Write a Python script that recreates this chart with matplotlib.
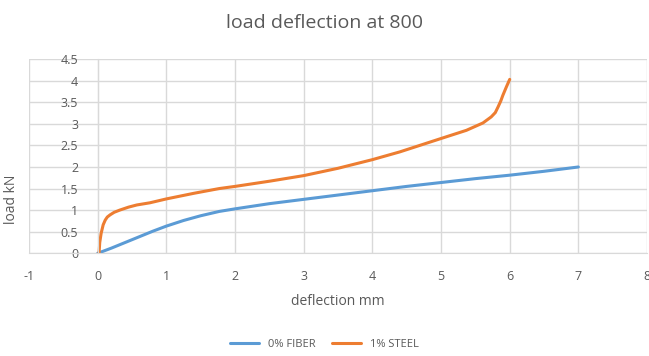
import matplotlib.pyplot as plt
import numpy as np

plt.rcParams['font.family'] = ['Open Sans', 'DejaVu Sans']

# 0% fiber curve (deflection mm, load kN)
fiber_x = [0, 0.2, 0.4, 0.6, 0.8, 1.0, 1.25, 1.5, 1.77, 2.0, 2.5, 3.0, 3.5, 4.0, 4.5, 5.0, 5.5, 6.0, 6.5, 7.0]
fiber_y = [0, 0.12, 0.25, 0.38, 0.51, 0.63, 0.76, 0.87, 0.97, 1.03, 1.15, 1.25, 1.35, 1.45, 1.55, 1.64, 1.73, 1.81, 1.9, 2.0]

# 1% steel curve
steel_x = [0.02, 0.03, 0.05, 0.08, 0.11, 0.14, 0.18, 0.24, 0.32, 0.45, 0.57, 0.76, 1.0, 1.4, 1.77, 2.0, 2.5, 3.0, 3.5,
           4.0, 4.4, 5.0, 5.37, 5.61, 5.73, 5.79, 5.83, 5.87, 5.9, 5.95, 6.0]
steel_y = [0, 0.25, 0.46, 0.66, 0.77, 0.84, 0.89, 0.95, 1.0, 1.07, 1.12, 1.17, 1.26, 1.39, 1.5, 1.55, 1.67, 1.8, 1.97,
           2.17, 2.35, 2.66, 2.85, 3.02, 3.16, 3.26, 3.39, 3.53, 3.66, 3.85, 4.03]

x_ticks = [-1, 0, 1, 2, 3, 4, 5, 6, 7, 8]
y_ticks = [0, 0.5, 1, 1.5, 2, 2.5, 3, 3.5, 4, 4.5]

grid_col = '#D9D9D9'
text_col = '#595959'

fig = plt.figure(figsize=(6.49, 3.56), dpi=100)
ax = fig.add_axes([0.0447, 0.2885, 0.9523, 0.5455])

ax.plot(fiber_x, fiber_y, color='#5B9BD5', lw=2.2, label='0% FIBER', solid_capstyle='round')
ax.plot(steel_x, steel_y, color='#ED7D31', lw=2.2, label='1% STEEL', solid_capstyle='round')

ax.set_xlim(-1, 8)
ax.set_ylim(0, 4.5)
ax.set_xticks(x_ticks)
ax.set_yticks(y_ticks)
ax.set_xticklabels([str(v) for v in x_ticks])
ax.set_yticklabels([('%g' % v) for v in y_ticks])
ax.grid(True, color=grid_col, lw=1)
ax.set_axisbelow(True)

for s in ['top', 'right']:
    ax.spines[s].set_visible(False)
ax.spines['bottom'].set_color(grid_col)
ax.spines['left'].set_position(('data', 0))
ax.spines['left'].set_color(grid_col)

ax.tick_params(length=0, colors=text_col, labelsize=9)
ax.tick_params(axis='x', pad=12)
ax.tick_params(axis='y', pad=14)

ax.set_xlabel('deflection mm', color=text_col, fontsize=10, labelpad=8)
fig.text(0.018, 0.44, 'load kN', rotation=90, color=text_col, fontsize=10, ha='center', va='center')

fig.suptitle('load deflection at 800', color=text_col, fontsize=14, y=0.96)

fig.legend(loc='lower center', bbox_to_anchor=(0.5, -0.01), ncol=2, frameon=False,
           fontsize=8, handlelength=2.6, columnspacing=1.5, labelcolor=text_col)

fig.savefig('out.png', dpi=100)
